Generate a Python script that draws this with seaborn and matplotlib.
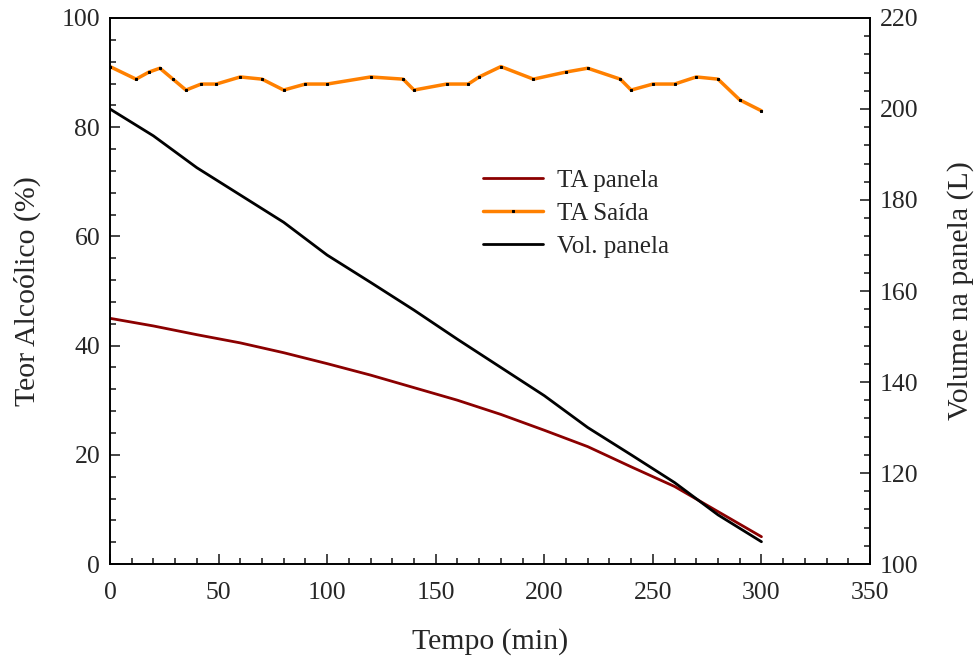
import matplotlib
matplotlib.use("Agg")
import matplotlib.pyplot as plt
import seaborn as sns
from matplotlib.ticker import MultipleLocator

# TA panela (left axis, %)
t_panela = [0, 20, 40, 60, 80, 100, 120, 140, 160, 180, 200, 220, 240, 260, 280, 300]
ta_panela = [45.0, 43.6, 42.0, 40.5, 38.7, 36.7, 34.6, 32.3, 30.0, 27.4, 24.5, 21.5, 17.8, 14.2, 9.6, 5.0]

# TA Saida (left axis, %)
t_saida = [0, 12, 18, 23, 29, 35, 42, 49, 60, 70, 80, 90, 100, 120, 135, 140,
           155, 165, 170, 180, 195, 210, 220, 235, 240, 250, 260, 270, 280, 290, 300]
ta_saida = [91.1, 88.8, 90.1, 90.8, 88.8, 86.8, 87.9, 87.9, 89.2, 88.8, 86.8, 87.9, 87.9, 89.2, 88.8, 86.8,
            87.9, 87.9, 89.2, 91.1, 88.8, 90.1, 90.8, 88.8, 86.8, 87.9, 87.9, 89.2, 88.8, 85.0, 83.0]

# Volume na panela (right axis, L)
t_vol = [0, 20, 40, 60, 80, 100, 120, 140, 160, 180, 200, 220, 240, 260, 280, 300]
vol = [200.0, 194.1, 187.1, 181.1, 175.1, 167.9, 161.9, 155.8, 149.4, 143.2, 137.0, 130.0, 124.0, 117.9, 110.8, 104.9]

sns.set_style("ticks")
plt.rcParams['font.family'] = ['Liberation Serif', 'DejaVu Serif']

fig = plt.figure(figsize=(9.8, 6.61), dpi=100)
ax = fig.add_axes([0.1122, 0.1467, 0.7756, 0.8261])
ax2 = ax.twinx()

sns.lineplot(x=t_panela, y=ta_panela, ax=ax, color="#8b0000", linewidth=2, label="TA panela", legend=False)
sns.lineplot(x=t_saida, y=ta_saida, ax=ax, color="#ff8000", linewidth=2.5, marker="s", markersize=1.8,
             markerfacecolor="black", markeredgecolor="black", label="TA Saída", legend=False)
sns.lineplot(x=t_vol, y=vol, ax=ax2, color="black", linewidth=2, label="Vol. panela", legend=False)

ax.set_xlim(0, 350)
ax.set_ylim(0, 100)
ax2.set_ylim(100, 220)

ax.xaxis.set_major_locator(MultipleLocator(50))
ax.xaxis.set_minor_locator(MultipleLocator(10))
ax.yaxis.set_major_locator(MultipleLocator(20))
ax.yaxis.set_minor_locator(MultipleLocator(4))
ax2.yaxis.set_major_locator(MultipleLocator(20))
ax2.yaxis.set_minor_locator(MultipleLocator(4))

for a in (ax, ax2):
    a.tick_params(which="major", direction="in", length=7, width=1.2, labelsize=18.5, pad=7)
    a.tick_params(which="minor", direction="in", length=4, width=1.2)
    for s in a.spines.values():
        s.set_linewidth(1.2)
        s.set_color("black")
ax.tick_params(top=False, which="both")
ax.tick_params(axis="x", pad=13)
ax.tick_params(axis="y", right=False, which="both")

ax.set_xlabel("Tempo (min)", fontsize=21.5, labelpad=17)
ax.set_ylabel("Teor Alcoólico (%)", fontsize=21.5, labelpad=15)
ax2.set_ylabel("Volume na panela (L)", fontsize=21.5, labelpad=21)

h1, l1 = ax.get_legend_handles_labels()
h2, l2 = ax2.get_legend_handles_labels()
ax2.legend(h1 + h2, l1 + l2, loc="upper left", bbox_to_anchor=(0.491, 0.7225), frameon=False,
           fontsize=18, handlelength=2.4, handletextpad=0.55, labelspacing=0.42, borderpad=0,
           borderaxespad=0)

fig.savefig("out.png", dpi=100)
